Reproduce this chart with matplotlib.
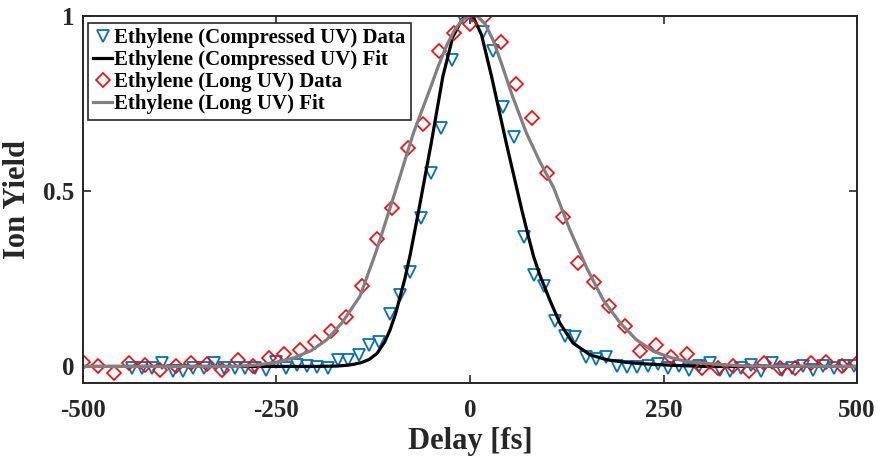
import matplotlib
matplotlib.use("Agg")
import matplotlib.pyplot as plt

# Ethylene, compressed UV pulse: measured points (delay in fs, normalised yield)
compressed_delay = [
    -437.0, -423.7, -410.3, -397.0, -383.7, -370.3, -357.0, -343.7, -330.3, -317.0,
    -303.7, -290.3, -277.0, -263.7, -250.3, -237.0, -223.7, -210.3, -197.0, -183.7,
    -170.3, -157.0, -143.7, -130.3, -117.0, -103.7, -90.3, -77.0, -63.7, -50.3,
    -37.0, -23.7, -10.3, 3.0, 16.3, 29.7, 43.0, 56.3, 69.7, 83.0,
    96.3, 109.7, 123.0, 136.3, 149.7, 163.0, 176.3, 189.7, 203.0, 216.3,
    229.7, 243.0, 256.3, 269.7, 283.0, 296.3, 309.7, 323.0, 336.3, 349.7,
    363.0, 376.3, 389.7, 403.0, 416.3, 429.7, 443.0, 456.3, 469.7, 483.0,
    496.3,
]
compressed_yield = [
    -0.005, -0.005, -0.005, 0.010, -0.014, -0.012, -0.005, -0.005, 0.010, -0.005,
    -0.005, -0.005, -0.005, -0.009, 0.014, -0.005, 0.005, 0.000, -0.002, -0.005,
    0.019, 0.019, 0.033, 0.062, 0.071, 0.150, 0.204, 0.270, 0.423, 0.551,
    0.679, 0.874, 0.995, 1.000, 0.954, 0.900, 0.740, 0.655, 0.370, 0.260,
    0.228, 0.130, 0.086, 0.083, 0.026, 0.022, 0.026, 0.000, -0.002, -0.003,
    0.000, 0.008, -0.004, 0.000, -0.010, 0.000, 0.010, -0.010, -0.014, -0.005,
    0.005, -0.014, 0.011, -0.010, -0.005, 0.000, -0.010, 0.000, -0.005, 0.000,
    0.000,
]

# fit curve for the compressed pulse
compressed_fit_delay = [-500, -200, -172, -160, -150, -140, -130, -120, -110, -103,
                        -96, -90, -84, -77, -66, -50, -35, -22, -10, -5,
                        0, 5, 15, 28, 47, 67, 75, 82, 90, 103,
                        116, 133, 155, 177, 200, 220, 263, 305, 500]
compressed_fit_yield = [0.0, 0.0, 0.001, 0.003, 0.006, 0.011, 0.020, 0.037, 0.070, 0.105,
                        0.150, 0.200, 0.250, 0.320, 0.446, 0.636, 0.826, 0.940, 0.990, 0.998,
                        1.000, 0.993, 0.945, 0.826, 0.636, 0.446, 0.375, 0.315, 0.262, 0.190,
                        0.124, 0.067, 0.033, 0.019, 0.012, 0.008, 0.003, 0.0, 0.0]

# Ethylene, long UV pulse: measured points
long_delay = list(range(-500, 501, 20))
long_yield = [
    0.014, 0.000, -0.018, 0.010, 0.005, -0.010, 0.002, 0.011, 0.008, -0.011,
    0.019, 0.000, 0.025, 0.036, 0.046, 0.071, 0.100, 0.142, 0.228, 0.364,
    0.452, 0.622, 0.690, 0.900, 0.950, 0.976, 1.000, 0.926, 0.805, 0.708,
    0.551, 0.426, 0.296, 0.242, 0.171, 0.114, 0.043, 0.060, 0.028, 0.036,
    -0.005, -0.005, 0.000, -0.014, 0.011, -0.005, -0.005, 0.011, 0.014, 0.000,
    0.010,
]

long_fit_delay = [-500, -300, -271, -250, -228, -205, -185, -165, -142, -121,
                  -99, -73, -50, -41, -30, -20, -10, 0, 5, 10,
                  20, 30, 41, 55, 73, 90, 108, 129, 151, 172,
                  194, 215, 237, 260, 280, 323, 360, 500]
long_fit_yield = [0.0, 0.0, 0.005, 0.012, 0.024, 0.045, 0.076, 0.125, 0.200, 0.328,
                  0.480, 0.665, 0.800, 0.855, 0.915, 0.958, 0.988, 0.999, 1.000, 0.997,
                  0.975, 0.930, 0.862, 0.770, 0.665, 0.585, 0.510, 0.390, 0.280, 0.190,
                  0.124, 0.076, 0.043, 0.025, 0.014, 0.005, 0.001, 0.0]

plt.rcParams["font.family"] = ["Liberation Serif", "DejaVu Serif"]
plt.rcParams["font.weight"] = "bold"

fig = plt.figure(figsize=(8.8, 4.59), dpi=100)
ax = fig.add_axes([0.094, 0.165, 0.880, 0.801])

blue = "#0072BD"
ax.plot(compressed_delay, compressed_yield, "v", ls="none", mfc="none", mec=blue,
        ms=9, mew=1.3, label="Ethylene (Compressed UV) Data")
ax.plot(compressed_fit_delay, compressed_fit_yield, color="black", lw=2.3,
        label="Ethylene (Compressed UV) Fit")
ax.plot(long_delay, long_yield, "D", ls="none", mfc="none", mec="red",
        ms=7.5, mew=1.2, label="Ethylene (Long UV) Data")
ax.plot(long_fit_delay, long_fit_yield, color="#808080", lw=2.3,
        label="Ethylene (Long UV) Fit")

ax.set_xlim(-500, 500)
ax.set_ylim(-0.048, 1.0)
ax.set_xticks([-500, -250, 0, 250, 500])
ax.set_xticklabels(["-500", "-250", "0", "250", "500"])
ax.set_yticks([0, 0.5, 1])
ax.set_yticklabels(["0", "0.5", "1"])
ax.tick_params(axis="both", direction="in", length=6, width=1.2, top=True, right=True,
               labelsize=18, colors="#262626")
ax.tick_params(axis="x", pad=11)
ax.tick_params(axis="y", pad=6)
for s in ax.spines.values():
    s.set_linewidth(1.4)
    s.set_color("#262626")

ax.set_xlabel("Delay [fs]", fontsize=22, fontweight="bold", color="#262626", labelpad=4)
ax.set_ylabel("Ion Yield", fontsize=22, fontweight="bold", color="#262626", labelpad=8)

leg = ax.legend(loc="upper left", bbox_to_anchor=(88 / 880, 1 - 23 / 459),
                bbox_transform=fig.transFigure, frameon=True,
                fancybox=False, edgecolor="#262626", framealpha=1,
                borderaxespad=0, borderpad=0.25, handlelength=0.9,
                handletextpad=0.1, labelspacing=0.1, prop={"weight": "bold", "size": 15})
leg.get_frame().set_linewidth(1.2)

fig.savefig("out.png", dpi=100)
